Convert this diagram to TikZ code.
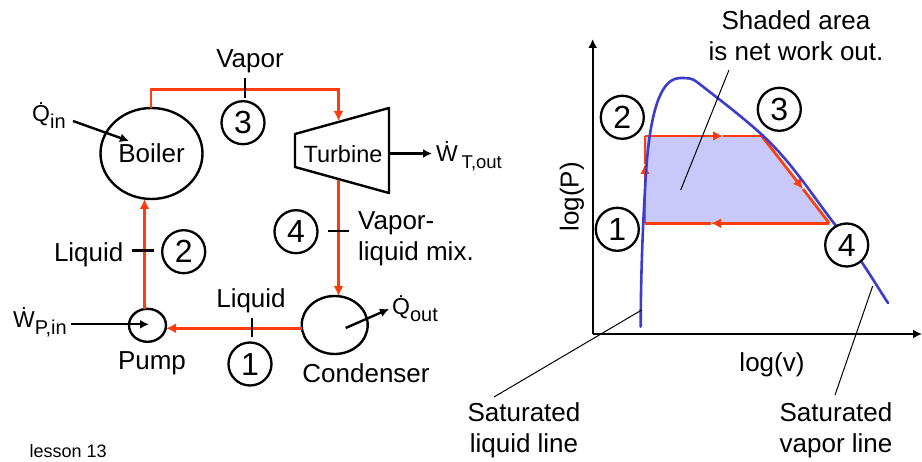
\documentclass[tikz,border=0pt]{standalone}
\usepackage{fontspec}
\setmainfont{Liberation Sans}
\usetikzlibrary{arrows.meta,shapes.geometric}
\definecolor{flowred}{RGB}{255,60,10}
\definecolor{curveblue}{RGB}{60,60,205}
\definecolor{areablue}{RGB}{200,200,250}
\newcommand{\lowsub}[1]{\raisebox{-6.5pt}{\fontsize{20}{20}\selectfont #1}}
\tikzset{
  lbl/.style={inner sep=0pt, font=\fontsize{26}{31}\selectfont},
  symb/.style={lbl, font=\fontsize{23}{23}\selectfont, anchor=base west},
  state/.style={draw, circle, line width=2.3pt, minimum size=43pt, inner sep=0pt, fill=white, font=\fontsize{32}{32}\selectfont},
  unit/.style={draw, ellipse, line width=2.4pt, inner sep=0pt},
  flow/.style={draw=flowred, line width=2.7pt},
  flowtip/.style={flow, -{Latex[length=10pt,width=10pt]}},
  work/.style={line width=2.4pt, -{Latex[length=9pt,width=9pt]}},
  tick/.style={line width=2.4pt},
  leader/.style={line width=1pt}
}
\begin{document}
\begin{tikzpicture}[x=1pt,y=-1pt]
  \useasboundingbox (0,0) rectangle (922,462);
  % plant
  \node[unit, minimum width=102pt, minimum height=91pt] (boiler) at (151.5,153.5) {};
  \node[unit, minimum width=66pt, minimum height=58pt] (condenser) at (334.7,325) {};
  \node[unit, minimum width=37pt, minimum height=33pt] (pump) at (147.5,325.3) {};
  \coordinate (t1) at (295,134);
  \coordinate (t2) at (389,108);
  \coordinate (t3) at (389,193);
  \coordinate (t4) at (295,167);
  \draw[line width=2.4pt, line join=round] (t1) -- (t2) -- (t3) -- (t4) -- cycle;
  \node[lbl, font=\fontsize{23.5}{28}\selectfont, anchor=base] (turbine) at (343,163) {Turbine};
  \node[lbl, anchor=base] (boilertxt) at (151.5,163) {Boiler};
  \node[lbl, anchor=base] (pumptxt) at (152,370) {Pump};
  \node[lbl, anchor=base] (condensertxt) at (366,383) {Condenser};
  % loop
  \coordinate (b1) at (151,108);
  \coordinate (b2) at (151,89.5);
  \coordinate (b3) at (338.5,89.5);
  \coordinate (b4) at (338.5,121);
  \coordinate (b5) at (338.5,180);
  \coordinate (b6) at (338.5,296);
  \coordinate (b7) at (301.7,328.3);
  \coordinate (b8) at (166,328.3);
  \coordinate (b9) at (144.5,308.7);
  \coordinate (b10) at (144.5,199);
  \draw[flowtip] (b1) -- (b2) -- (b3) -- (b4);
  \draw[flowtip] (b5) -- (b6);
  \draw[flowtip] (b7) -- (b8);
  \draw[flowtip] (b9) -- (b10);
  % ticks
  \coordinate (k1a) at (251.7,317.7);
  \coordinate (k1b) at (251.7,336.7);
  \coordinate (k2a) at (132,250.7);
  \coordinate (k2b) at (154,250.7);
  \coordinate (k3a) at (245,78);
  \coordinate (k3b) at (245,98);
  \coordinate (k4a) at (328,231);
  \coordinate (k4b) at (349,231);
  \draw[tick] (k1a) -- (k1b);
  \draw[tick] (k2a) -- (k2b);
  \draw[tick] (k3a) -- (k3b);
  \draw[tick] (k4a) -- (k4b);
  \node[state] (s1) at (250,364) {1};
  \node[state] (s2) at (183.7,251.7) {2};
  \node[state] (s3) at (243,122.7) {3};
  \node[state] (s4) at (296,231.7) {4};
  \node[lbl, anchor=base] (vapor) at (250,68) {Vapor};
  \node[lbl, anchor=base] (liq1) at (251,308) {Liquid};
  \node[lbl, anchor=base] (liq2) at (88.7,261.7) {Liquid};
  \node[lbl, anchor=west, align=left] (mix) at (358,239) {Vapor-\\liquid mix.};
  % heat and work
  \node[symb] (qin) at (32,122) {\.Q\lowsub{in}};
  \node[symb] (wt) at (436,162) {\.W\,\lowsub{\fontsize{18.5}{20}\selectfont T,out}};
  \node[symb] (wp) at (13,328) {\.W\lowsub{P,in}};
  \node[symb] (qout) at (392,315) {\.Q\lowsub{out}};
  \coordinate (a1) at (73,121);
  \coordinate (a2) at (129,141);
  \coordinate (a3) at (389,153.5);
  \coordinate (a4) at (432,153.5);
  \coordinate (a5) at (71,324.3);
  \coordinate (a6) at (149,324.3);
  \coordinate (a7) at (345.7,328);
  \coordinate (a8) at (389,309);
  \draw[work] (a1) -- (a2);
  \draw[work] (a3) -- (a4);
  \draw[work] (a5) -- (a6);
  \draw[work] (a7) -- (a8);
  % chart
  \coordinate (origin) at (592.7,334);
  \coordinate (ytop) at (592.7,39);
  \coordinate (xend) at (922,334);
  \draw[work] (origin) -- (ytop);
  \draw[work] (origin) -- (xend);
  \coordinate (c1) at (645,223.3);
  \coordinate (c2) at (645,136);
  \coordinate (c3) at (761.7,136);
  \coordinate (c4) at (829.3,223.3);
  \coordinate (m1) at (645,164);
  \coordinate (m2) at (723,136);
  \coordinate (m3) at (803,189);
  \coordinate (m4) at (711,223.3);
  \fill[areablue] (c1) -- (c2) -- (c3) -- (c4) -- cycle;
  \draw[flowtip] (c1) -- (m1);
  \draw[flow] (m1) -- (c2);
  \draw[flowtip] (c2) -- (m2);
  \draw[flow] (m2) -- (c3);
  \draw[flowtip] (c3) -- (m3);
  \draw[flow] (m3) -- (c4);
  \draw[flowtip] (c4) -- (m4);
  \draw[flow] (m4) -- (c1);
  \draw[line width=2.6pt, draw=curveblue, line cap=round]
    (640.7,326.7) .. controls (640.7,290) and (642,240) .. (645,190)
    .. controls (647,150) and (652,78) .. (680,78)
    .. controls (688,78) and (692,78) .. (697,82)
    .. controls (720,100) and (740,115) .. (760,133)
    .. controls (790,160) and (810,192) .. (833,222)
    .. controls (855,250) and (870,275) .. (888,303);
  \node[state] (p1) at (617.3,229.3) {1};
  \node[state] (p2) at (622.3,117.3) {2};
  \node[state] (p3) at (779.3,109.3) {3};
  \node[state] (p4) at (846.7,245) {4};
  % labels of the chart
  \node[lbl, align=center] (shaded) at (796,35.5) {Shaded area\\is net work out.};
  \node[lbl, rotate=90] (logp) at (572,197) {log(P)};
  \node[lbl, anchor=base] (logv) at (772,372) {log(v)};
  \node[lbl, align=center] (satliq) at (524,430) {Saturated\\liquid line};
  \node[lbl, align=center] (satvap) at (836,430) {Saturated\\vapor line};
  \node[lbl, font=\fontsize{18}{22}\selectfont, anchor=base west] (lesson) at (29.5,458) {lesson 13};
  \coordinate (l1) at (729,70);
  \coordinate (l2) at (680.7,190);
  \coordinate (l3) at (641.7,310);
  \coordinate (l4) at (494,397);
  \coordinate (l5) at (872.7,286);
  \coordinate (l6) at (835,395);
  \draw[leader] (l1) -- (l2);
  \draw[leader] (l3) -- (l4);
  \draw[leader] (l5) -- (l6);
\end{tikzpicture}
\end{document}
